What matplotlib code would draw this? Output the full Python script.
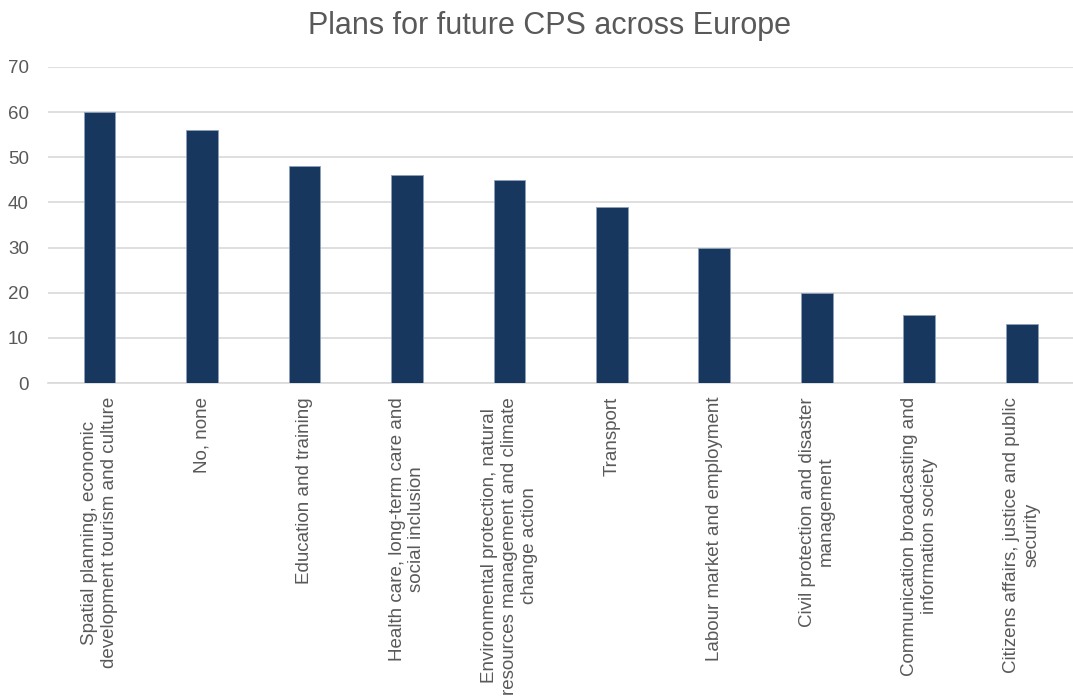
import matplotlib
matplotlib.use("Agg")
import matplotlib.pyplot as plt
import numpy as np

plt.rcParams["font.family"] = ["Liberation Sans", "DejaVu Sans"]

categories = [
    "Spatial planning, economic\ndevelopment tourism and culture",
    "No, none",
    "Education and training",
    "Health care, long-term care and\nsocial inclusion",
    "Environmental protection, natural\nresources management and climate\nchange action",
    "Transport",
    "Labour market and employment",
    "Civil protection and disaster\nmanagement",
    "Communication broadcasting and\ninformation society",
    "Citizens affairs, justice and public\nsecurity",
]
values = [60, 56, 48, 46, 45, 39, 30, 20, 15, 13]
y_ticks = [0, 10, 20, 30, 40, 50, 60, 70]

BAR = "#17375E"
GRID = "#D9D9D9"
TEXT = "#595959"

fig = plt.figure(figsize=(10.73, 6.97), dpi=100)
ax = fig.add_axes([0.045, 0.4505, 0.955, 0.4535])

x = np.arange(len(categories))
ax.bar(x, values, width=0.31, color=BAR, edgecolor="#8DA0B8", linewidth=0.6, zorder=3)

ax.set_ylim(0, 70)
ax.set_xlim(-0.5, len(categories) - 0.5)
ax.set_yticks(y_ticks)
ax.yaxis.grid(True, color=GRID, linewidth=1.2, zorder=0)
ax.set_axisbelow(True)
for side in ["top", "right", "left"]:
    ax.spines[side].set_visible(False)
ax.spines["bottom"].set_color(GRID)
ax.spines["bottom"].set_linewidth(1.2)
ax.tick_params(axis="both", length=0, colors=TEXT)
ax.tick_params(axis="y", pad=14, labelsize=13.5)

ax.set_xticks(x)
ax.set_xticklabels(categories, rotation=90, ha="center", va="top",
                   multialignment="center", fontsize=13.5)
ax.tick_params(axis="x", pad=10)

fig.text(0.512, 0.963, "Plans for future CPS across Europe", ha="center", va="center",
         fontsize=22, color=TEXT)

fig.savefig("out.png", dpi=100)
plt.close(fig)
